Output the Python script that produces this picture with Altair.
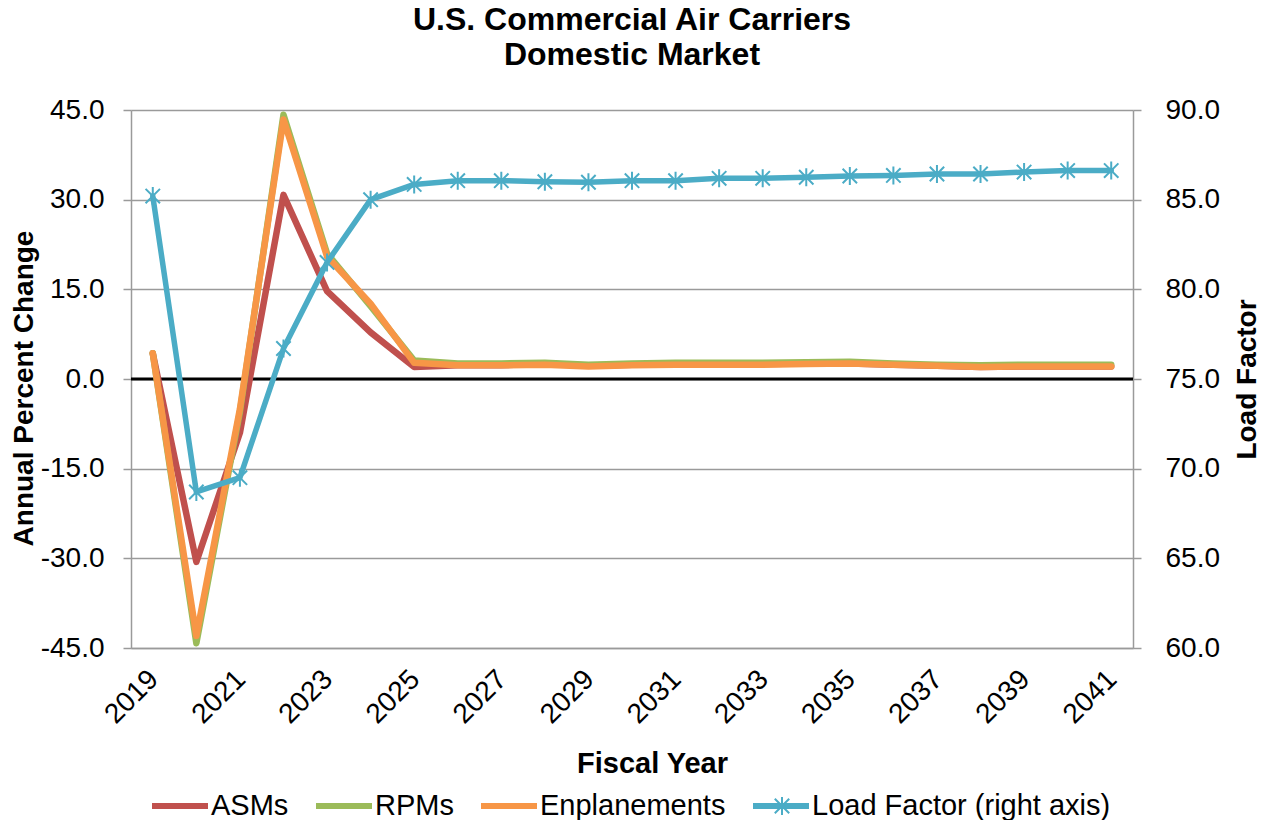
import altair as alt
import pandas as pd

# ---------------- data ----------------
years = list(range(2019, 2042))
asms = [4.3, -30.6, -9.0, 30.8, 14.7, 7.8, 2.0, 2.3, 2.3, 2.6, 2.2, 2.4, 2.4, 2.4,
        2.5, 2.6, 2.6, 2.4, 2.2, 2.0, 2.1, 2.1, 2.1]
rpms = [4.3, -44.2, -5.5, 44.2, 21.0, 12.2, 3.1, 2.6, 2.6, 2.7, 2.4, 2.6, 2.7, 2.7,
        2.7, 2.8, 2.9, 2.6, 2.4, 2.3, 2.4, 2.4, 2.4]
enplanements = [4.3, -43.0, -5.0, 43.4, 20.5, 12.6, 2.7, 2.3, 2.3, 2.4, 2.1, 2.3, 2.4, 2.4,
                2.4, 2.5, 2.6, 2.4, 2.2, 2.0, 2.1, 2.1, 2.1]
load_factor = [85.2, 68.7, 69.5, 76.7, 81.5, 85.0, 85.85, 86.06, 86.06, 86.0, 85.97, 86.06,
               86.06, 86.19, 86.19, 86.25, 86.32, 86.35, 86.43, 86.43, 86.54, 86.62, 86.62]

series_names = ["ASMs", "RPMs", "Enplanements", "Load Factor (right axis)"]
series_colors = ["#C0504D", "#9BBB59", "#F79646", "#4BACC6"]
LF = series_names[3]

left_ticks = [-45, -30, -15, 0, 15, 30, 45]
right_ticks = [60, 65, 70, 75, 80, 85, 90]
year_ticks = list(range(2019, 2042, 2))
baseline = [0]

title_lines = ["U.S. Commercial Air Carriers", "Domestic Market"]

rows = []
for name, vals in zip(series_names, [asms, rpms, enplanements, load_factor]):
    for yr, v in zip(years, vals):
        rows.append({"Year": yr, "Series": name, "Marker": name, "Value": v})
df = pd.DataFrame(rows)
zero_df = pd.DataFrame({"Baseline": baseline})

# ---------------- styling ----------------
FONT = "Liberation Sans"
GRID = "#9a9a9a"
ASTERISK = "M0,-1V1M-0.8,-0.8L0.8,0.8M-0.8,0.8L0.8,-0.8"
HYPHEN_FMT = "replace(format(datum.value, '.1f'), '\u2212', '-')"

x_enc = alt.X(
    "Year:Q",
    scale=alt.Scale(domain=[2018.5, 2041.5], nice=False, zero=False),
    axis=alt.Axis(values=year_ticks, format="d", labelAngle=-45, labelAlign="right",
                  labelBaseline="top", labelPadding=17, labelOffset=-9, ticks=False,
                  grid=False, domainColor=GRID, domainWidth=1.5, labelOverlap=False,
                  labelFlush=False, labelBound=False, title="Fiscal Year", titleX=521,
                  titleY=124, titleFontSize=29, titleAlign="center",
                  titleBaseline="alphabetic"),
)

left_scale = alt.Scale(domain=[-45, 45], nice=False, zero=False)
left_axis = alt.Axis(values=left_ticks, labelExpr=HYPHEN_FMT, title="Annual Percent Change",
                     grid=True, gridColor=GRID, gridWidth=1.5, domainColor=GRID,
                     domainWidth=1.5, tickColor=GRID, tickWidth=1.5, tickSize=8,
                     labelPadding=19, titleAngle=270, titleX=-99, titleY=278,
                     titleAlign="center", titleBaseline="alphabetic")

right_axis = alt.Axis(orient="right", values=right_ticks, labelExpr=HYPHEN_FMT,
                      title="Load Factor", grid=False, domainColor=GRID, domainWidth=1.5,
                      tickColor=GRID, tickWidth=1.5, tickSize=8, labelPadding=24,
                      titleAngle=270, titleX=122, titleY=269, titleAlign="center",
                      titleBaseline="alphabetic")

color_legend = alt.Legend(orient="none", legendX=18, legendY=665, direction="horizontal",
                          columns=4, title=None, symbolType="stroke", symbolSize=3136,
                          symbolStrokeWidth=6, symbolOpacity=1, labelFontSize=29,
                          labelOffset=0, columnPadding=15, padding=0, labelLimit=0,
                          labelColor="black")
color_enc = alt.Color("Series:N", scale=alt.Scale(domain=series_names, range=series_colors),
                      legend=color_legend)

shape_legend = alt.Legend(orient="none", legendX=641, legendY=686, title=None,
                          labelExpr="''", labelFontSize=1, symbolSize=324,
                          symbolStrokeWidth=2, symbolStrokeColor="#4BACC6",
                          symbolFillColor="transparent", symbolOpacity=1, padding=0, zindex=5)

base = alt.Chart(df)

zero_rule = alt.Chart(zero_df).mark_rule(color="black", strokeWidth=3).encode(
    y=alt.Y("Baseline:Q", scale=left_scale, axis=left_axis)
)


def pct_line(name):
    return base.transform_filter(alt.datum.Series == name).mark_line(
        strokeWidth=6.5, strokeJoin="round", strokeCap="round"
    ).encode(
        x=x_enc,
        y=alt.Y("Value:Q", scale=left_scale, axis=left_axis),
        color=color_enc,
    )


left = alt.layer(zero_rule, pct_line("ASMs"), pct_line("RPMs"), pct_line("Enplanements"))

right_y = alt.Y("Value:Q", scale=alt.Scale(domain=[60, 90], nice=False, zero=False),
                axis=right_axis)
lf_line = base.transform_filter(alt.datum.Series == LF).mark_line(
    strokeWidth=5.5, strokeJoin="round", strokeCap="round"
).encode(x=x_enc, y=right_y, color=color_enc)
lf_points = base.transform_filter(alt.datum.Series == LF).mark_point(
    filled=False, size=324, strokeWidth=2, color="#4BACC6", opacity=1
).encode(
    x=x_enc, y=right_y,
    shape=alt.Shape("Marker:N", scale=alt.Scale(domain=[LF], range=[ASTERISK]),
                    legend=shape_legend),
)
right = alt.layer(lf_line, lf_points)

chart = alt.layer(left, right).resolve_scale(y="independent").properties(
    width=1002,
    height=538,
    autosize=alt.AutoSizeParams(type="none"),
    padding={"left": 123, "top": 102, "right": 128, "bottom": 172},
    title=alt.TitleParams(text=title_lines, fontSize=32, fontWeight="bold", anchor="middle",
                          color="black", offset=24, lineHeight=35),
).configure(font=FONT).configure_view(stroke=None).configure_axis(
    labelFontSize=28, titleFontSize=28, titleFontWeight="bold", labelColor="black",
    titleColor="black", labelFont=FONT, titleFont=FONT
).configure_legend(labelFont=FONT)

chart.save("out.html", embed_options={"renderer": "svg", "actions": False})
